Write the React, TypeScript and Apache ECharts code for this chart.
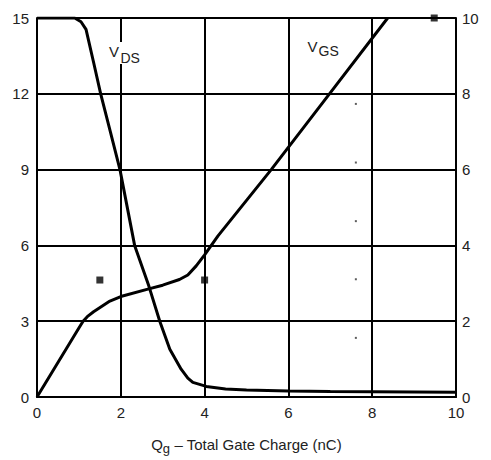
import React, { useEffect, useRef } from "react";
import * as echarts from "echarts";

const vdsCharge = [0, 0.5, 0.9, 1.05, 1.17, 1.35, 1.52, 1.75, 1.98, 2.33, 2.67, 2.93, 3.17, 3.44, 3.6, 3.72, 4.04, 4.5, 5, 6, 7, 8, 9, 10];
const vdsValues = [15, 15, 15, 14.85, 14.55, 13.25, 12, 10.5, 9, 6, 4.39, 3, 1.89, 1.1, 0.75, 0.58, 0.42, 0.32, 0.28, 0.24, 0.22, 0.21, 0.2, 0.19];

const vgsCharge = [0, 1.0, 1.1, 1.2, 1.35, 1.74, 2.0, 2.69, 3.0, 3.4, 3.6, 3.8, 4.0, 4.32, 5.59, 6.98, 8.37];
const vgsValues = [0, 1.82, 2.0, 2.12, 2.25, 2.53, 2.65, 2.86, 2.95, 3.1, 3.22, 3.46, 3.75, 4.25, 6, 8, 10];

const squareCharge = [1.5, 4.0, 9.48];
const squareValues = [4.63, 4.63, 15];

const dotCharge = [7.61, 7.61, 7.61, 7.61, 7.61];
const dotValues = [11.6, 9.28, 6.96, 4.66, 2.34];

const leftTicks = { min: 0, max: 15, interval: 3 };
const rightTicks = { min: 0, max: 10, interval: 2 };
const xTicks = { min: 0, max: 10, interval: 2 };

const FONT = "Liberation Sans";
const TXT = "#222";

export default function App() {
  const ref = useRef<HTMLDivElement>(null);
  useEffect(() => {
    if (!ref.current) return;
    const chart = echarts.init(ref.current, undefined, { renderer: "svg" });
    const zip = (a: number[], b: number[]) => a.map((v, i) => [v, b[i]]);
    const black = { color: "#000", width: 2 };
    chart.setOption({
      animation: false,
      backgroundColor: "#fff",
      grid: { left: 37, right: 35, top: 18, bottom: 63 },
      xAxis: {
        type: "value",
        ...xTicks,
        axisLine: { show: true, onZero: false, lineStyle: black },
        axisTick: { show: false },
        splitLine: { show: true, lineStyle: black },
        axisLabel: { color: TXT, fontSize: 15, fontFamily: FONT, margin: 8 },
        name: "{a|Q}{b|g}{a| – Total Gate Charge (nC)}",
        nameLocation: "middle",
        nameGap: 40,
        nameTextStyle: {
          rich: {
            a: { fontSize: 15, fontFamily: FONT, color: TXT, lineHeight: 18, verticalAlign: "top" },
            b: { fontSize: 13, fontFamily: FONT, color: TXT, lineHeight: 18, padding: [5, 0, 0, 0] },
          },
        },
      },
      yAxis: [
        {
          type: "value",
          position: "left",
          ...leftTicks,
          axisLine: { show: true, lineStyle: black },
          axisTick: { show: false },
          splitLine: { show: true, lineStyle: black },
          axisLabel: { color: TXT, fontSize: 15, fontFamily: FONT, margin: 8 },
        },
        {
          type: "value",
          position: "right",
          ...rightTicks,
          axisLine: { show: true, lineStyle: black },
          axisTick: { show: false },
          splitLine: { show: false },
          axisLabel: { color: TXT, fontSize: 15, fontFamily: FONT, margin: 6 },
        },
      ],
      series: [
        {
          name: "VDS",
          type: "line",
          yAxisIndex: 0,
          data: zip(vdsCharge, vdsValues),
          showSymbol: false,
          lineStyle: { color: "#000", width: 3 },
          z: 5,
        },
        {
          name: "VGS",
          type: "line",
          yAxisIndex: 1,
          data: zip(vgsCharge, vgsValues),
          showSymbol: false,
          lineStyle: { color: "#000", width: 3 },
          z: 5,
        },
        {
          type: "scatter",
          yAxisIndex: 0,
          data: zip(squareCharge, squareValues),
          symbol: "rect",
          symbolSize: 7,
          itemStyle: { color: "#000" },
          clip: false,
          z: 6,
        },
        {
          type: "scatter",
          yAxisIndex: 0,
          data: zip(dotCharge, dotValues),
          symbol: "rect",
          symbolSize: 2,
          itemStyle: { color: "#333" },
          z: 6,
        },
      ],
      graphic: [
        { type: "rect", shape: { x: 108, y: 42, width: 34, height: 22 }, style: { fill: "#fff" }, z: 10 },
        { type: "text", x: 109, y: 43.5, style: { text: "V", fontSize: 15, fontFamily: FONT, fill: TXT, verticalAlign: "top" }, z: 11 },
        { type: "text", x: 120.5, y: 50.5, style: { text: "DS", fontSize: 14, fontFamily: FONT, fill: TXT, verticalAlign: "top" }, z: 11 },
        { type: "text", x: 307.5, y: 38.5, style: { text: "V", fontSize: 15, fontFamily: FONT, fill: TXT, verticalAlign: "top" }, z: 11 },
        { type: "text", x: 318.5, y: 44, style: { text: "GS", fontSize: 14, fontFamily: FONT, fill: TXT, verticalAlign: "top" }, z: 11 },
      ],
    });
    return () => chart.dispose();
  }, []);
  return <div ref={ref} style={{ width: 491, height: 460, position: "absolute", left: 0, top: 0 }} />;
}
